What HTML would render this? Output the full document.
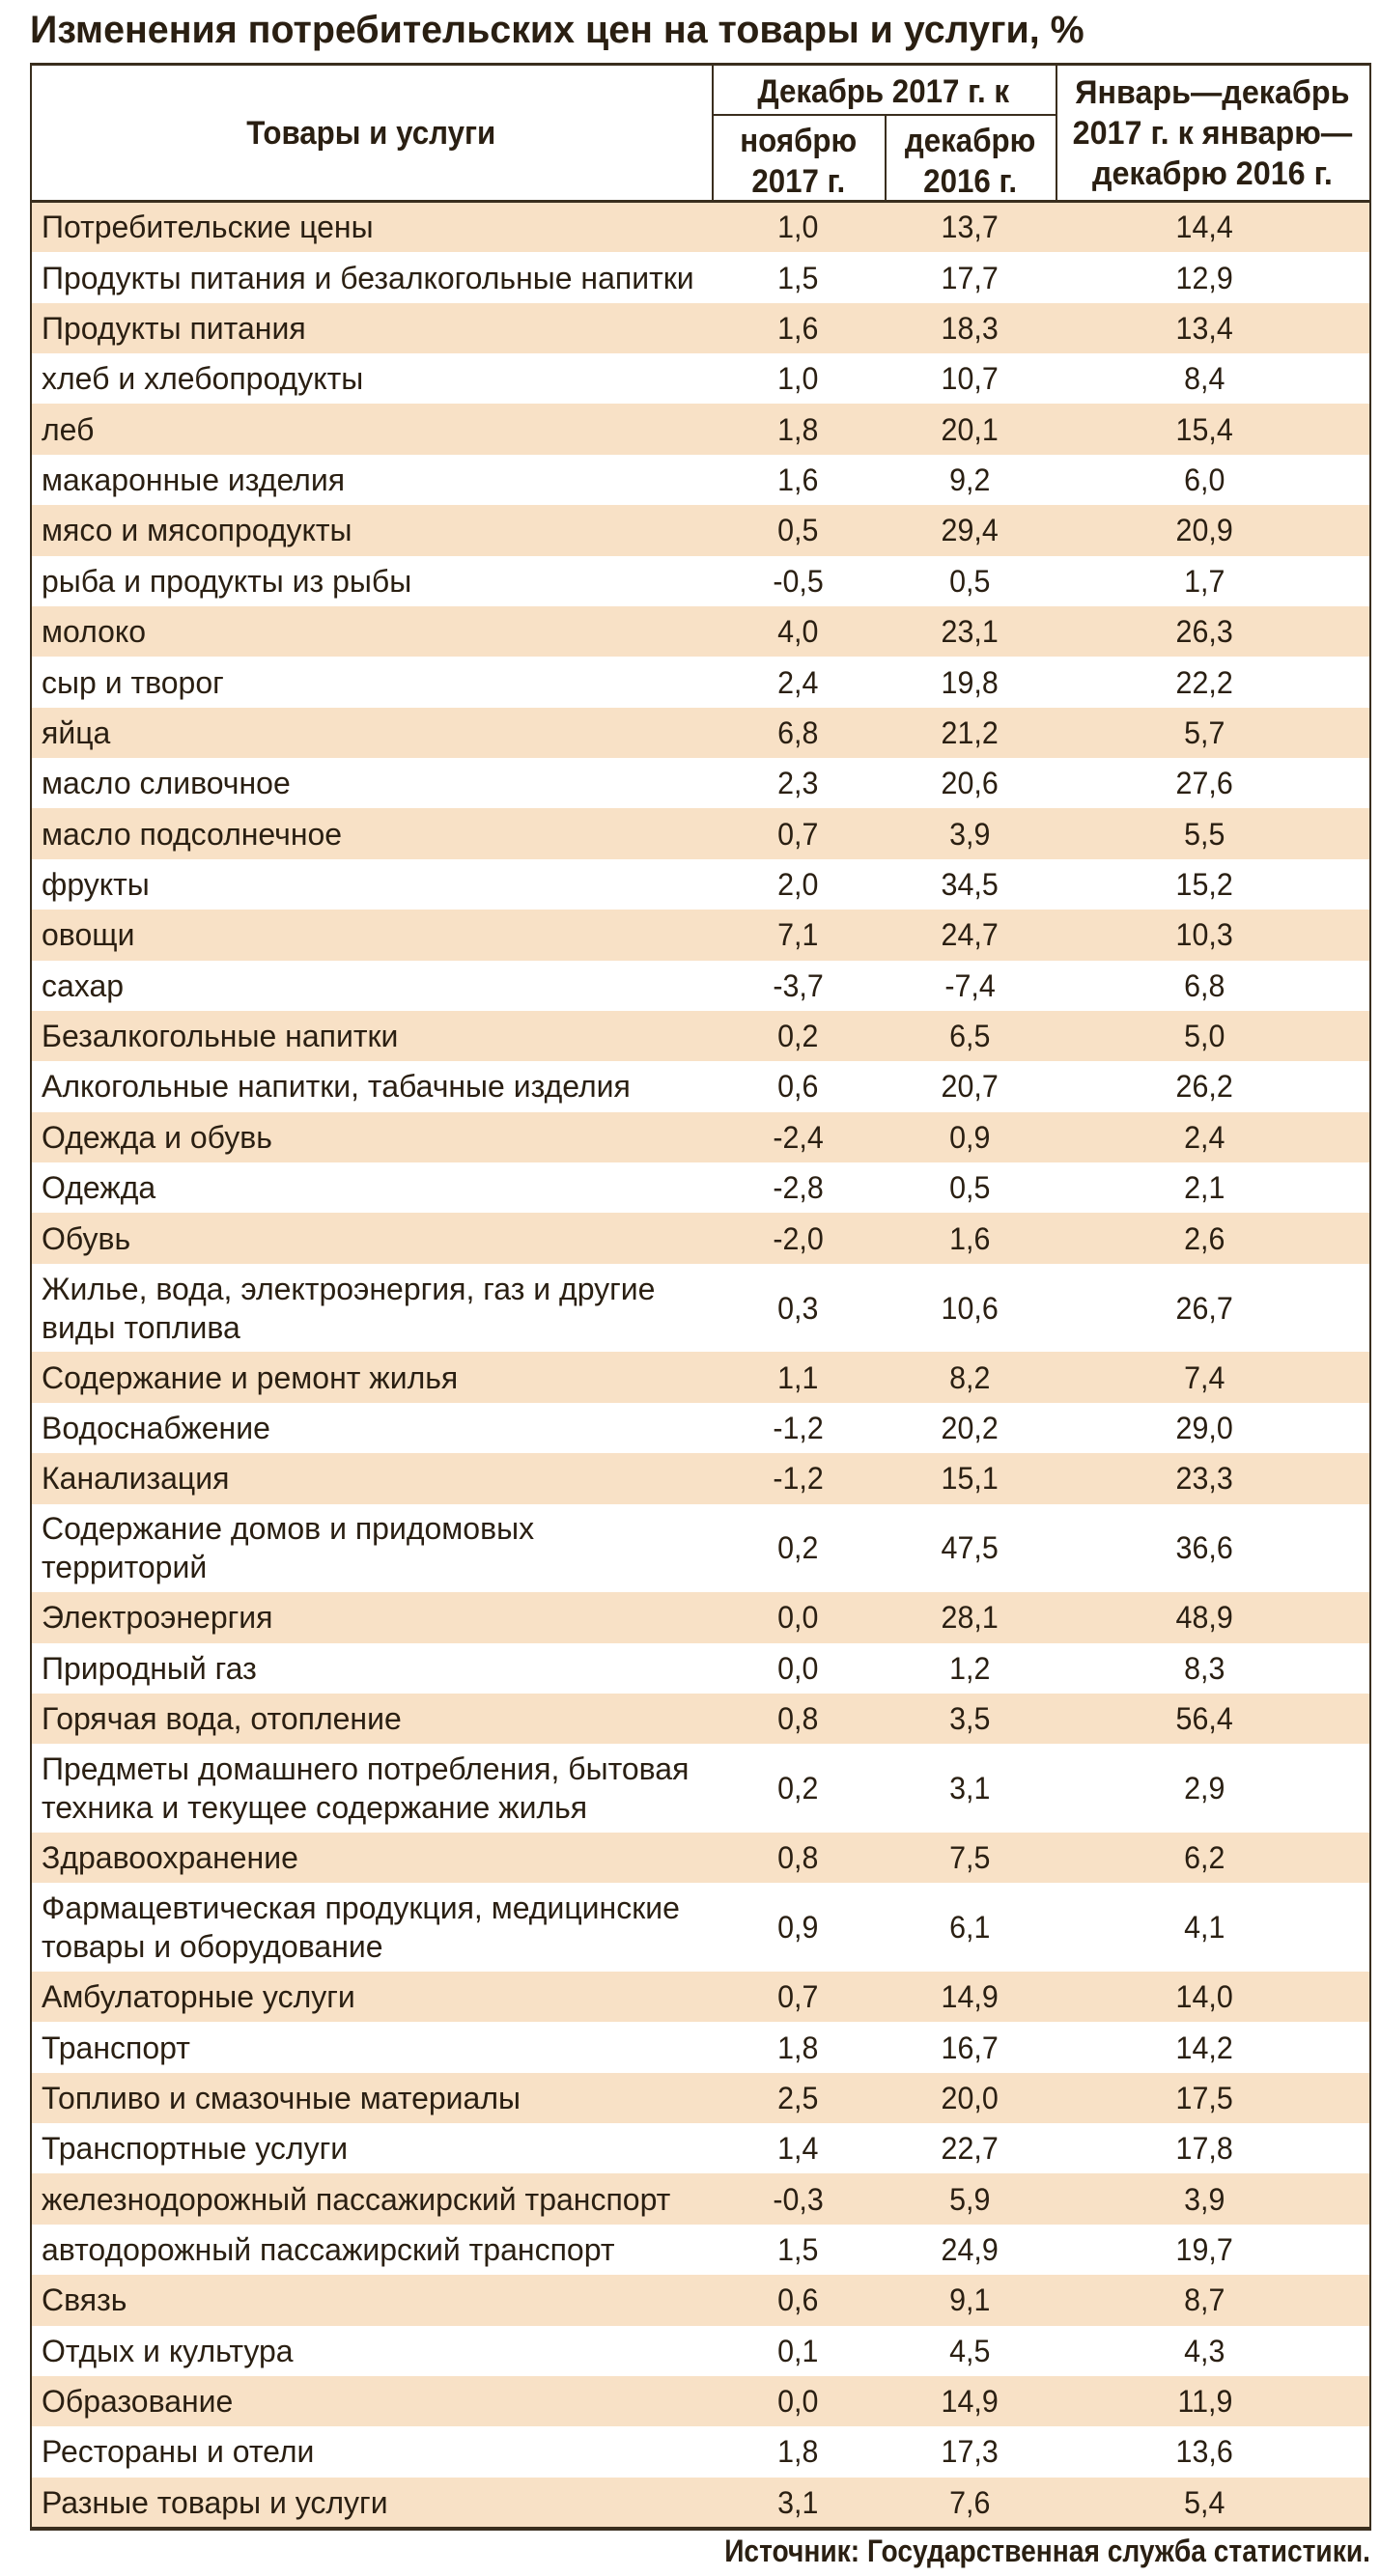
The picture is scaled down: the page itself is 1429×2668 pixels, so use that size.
<!DOCTYPE html>
<html><head><meta charset="utf-8">
<style>
html,body{margin:0;padding:0;background:#fff;}
body{width:1429px;height:2668px;position:relative;overflow:hidden;font-family:"Liberation Sans",sans-serif;color:#2a1f12;}
.abs{position:absolute;}
.t{white-space:nowrap;display:inline-block;transform-origin:left center;}
.row{position:absolute;left:33px;width:1385px;}
.lab{position:absolute;left:10px;font-size:32px;line-height:40px;}
.num{position:absolute;font-size:32px;text-align:center;width:160px;}
.vl{position:absolute;background:#3a2e1e;width:2px;}
.hl{position:absolute;background:#3a2e1e;height:3px;}
.hd{position:absolute;font-weight:bold;font-size:34px;line-height:42px;text-align:center;}
</style></head>
<body>
<div class="abs" style="left:31px;top:9px;font-size:40px;font-weight:bold;white-space:nowrap;"><span class="t" style="transform:scaleX(0.985)">Изменения потребительских цен на товары и услуги, %</span></div>
<div id="tbl"></div>
<div class="abs" style="right:10px;top:2624px;font-size:32px;font-weight:bold;white-space:nowrap;transform:scaleX(0.88);transform-origin:right center;">Источник: Государственная служба статистики.</div>
<script>
const categories=["Потребительские цены","Продукты питания и безалкогольные напитки","Продукты питания","хлеб и хлебопродукты","леб","макаронные изделия","мясо и мясопродукты","рыба и продукты из рыбы","молоко","сыр и творог","яйца","масло сливочное","масло подсолнечное","фрукты","овощи","сахар","Безалкогольные напитки","Алкогольные напитки, табачные изделия","Одежда и обувь","Одежда","Обувь","Жилье, вода, электроэнергия, газ и другие|виды топлива","Содержание и ремонт жилья","Водоснабжение","Канализация","Содержание домов и придомовых|территорий","Электроэнергия","Природный газ","Горячая вода, отопление","Предметы домашнего потребления, бытовая|техника и текущее содержание жилья","Здравоохранение","Фармацевтическая продукция, медицинские|товары и оборудование","Амбулаторные услуги","Транспорт","Топливо и смазочные материалы","Транспортные услуги","железнодорожный пассажирский транспорт","автодорожный пассажирский транспорт","Связь","Отдых и культура","Образование","Рестораны и отели","Разные товары и услуги"];
const novVals=["1,0","1,5","1,6","1,0","1,8","1,6","0,5","-0,5","4,0","2,4","6,8","2,3","0,7","2,0","7,1","-3,7","0,2","0,6","-2,4","-2,8","-2,0","0,3","1,1","-1,2","-1,2","0,2","0,0","0,0","0,8","0,2","0,8","0,9","0,7","1,8","2,5","1,4","-0,3","1,5","0,6","0,1","0,0","1,8","3,1"];
const decVals=["13,7","17,7","18,3","10,7","20,1","9,2","29,4","0,5","23,1","19,8","21,2","20,6","3,9","34,5","24,7","-7,4","6,5","20,7","0,9","0,5","1,6","10,6","8,2","20,2","15,1","47,5","28,1","1,2","3,5","3,1","7,5","6,1","14,9","16,7","20,0","22,7","5,9","24,9","9,1","4,5","14,9","17,3","7,6"];
const yearVals=["14,4","12,9","13,4","8,4","15,4","6,0","20,9","1,7","26,3","22,2","5,7","27,6","5,5","15,2","10,3","6,8","5,0","26,2","2,4","2,1","2,6","26,7","7,4","29,0","23,3","36,6","48,9","8,3","56,4","2,9","6,2","4,1","14,0","14,2","17,5","17,8","3,9","19,7","8,7","4,3","11,9","13,6","5,4"];
const tbl=document.getElementById('tbl');
const L=31,R=1418,TOP=66,HB=209,C1=737,C2=916,C3=1093,SUB=119;
const S=52.37,D=91.65;
function add(cls,style,html){const d=document.createElement('div');d.className=cls;d.style.cssText=style;if(html)d.innerHTML=html;tbl.appendChild(d);return d;}
let h;
h=add('hd',`left:${L}px;width:${C1-L}px;top:${TOP+51}px;`,'<span class="t" style="transform:scaleX(0.92);transform-origin:center">Товары и услуги</span>');

h=add('hd',`left:${C1}px;width:${C3-C1}px;top:${TOP+8}px;`,'<span class="t" style="transform:scaleX(0.92);transform-origin:center">Декабрь 2017 г. к</span>');

h=add('hd',`left:${C1}px;width:${C2-C1}px;top:${SUB+6}px;`,'<span class="t" style="transform:scaleX(0.92);transform-origin:center">ноябрю<br>2017 г.</span>');

h=add('hd',`left:${C2}px;width:${C3-C2}px;top:${SUB+6}px;`,'<span class="t" style="transform:scaleX(0.92);transform-origin:center">декабрю<br>2016 г.</span>');

h=add('hd',`left:${C3}px;width:${R-C3}px;top:${TOP+9}px;`,'<span class="t" style="transform:scaleX(0.95);transform-origin:center">Январь—декабрь<br>2017 г. к январю—<br>декабрю 2016 г.</span>');

let y=HB;
for(let i=0;i<categories.length;i++){
  const two=categories[i].includes('|');const hgt=two?D:S;
  const r=document.createElement('div');r.className='row';
  r.style.cssText=`top:${y}px;height:${hgt}px;background:${i%2===0?'#f8e1c6':'#fff'};`;
  
  
  const lab=document.createElement('div');lab.className='lab';
  lab.style.top=((hgt-(two?80:40))/2)+'px';
  lab.innerHTML='<span class="t">'+categories[i].split('|').join('<br>')+'</span>';
  
  
  r.appendChild(lab);
  const cols=[[novVals,(C1+C2)/2],[decVals,(C2+C3)/2],[yearVals,(C3+R)/2-8]];
  cols.forEach(([arr,cx],k)=>{
    const n=document.createElement('div');n.className='num';
    n.style.cssText=`left:${cx-80-33}px;top:${(hgt-40)/2}px;line-height:40px;`;
    n.innerHTML='<span class="t" style="transform:scaleX(0.95);transform-origin:center">'+arr[i]+'</span>';
    
    
    r.appendChild(n);
  });
  tbl.appendChild(r);
  y+=hgt;
}
const BOT=y;
add('hl',`left:${L}px;width:${R-L+2}px;top:${TOP-1}px;`);
add('hl',`left:${L}px;width:${R-L+2}px;top:${HB-2}px;`);
add('hl',`left:${C1}px;width:${C3-C1}px;top:${SUB-1}px;height:2px;`);
add('hl',`left:${L}px;width:${R-L+2}px;top:${BOT-1}px;height:4px;`);
add('vl',`left:${L}px;top:${TOP}px;height:${BOT-TOP}px;`);
add('vl',`left:${R}px;top:${TOP}px;height:${BOT-TOP}px;`);
add('vl',`left:${C1}px;top:${TOP}px;height:${HB-TOP}px;`);
add('vl',`left:${C2}px;top:${SUB}px;height:${HB-SUB}px;`);
add('vl',`left:${C3}px;top:${TOP}px;height:${HB-TOP}px;`);
</script>
</body></html>
